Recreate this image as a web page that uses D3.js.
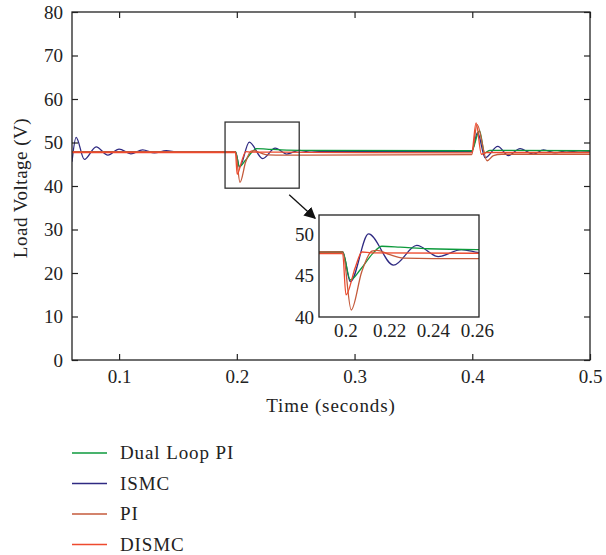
<!DOCTYPE html>
<html>
<head>
<meta charset="utf-8">
<script src="https://cdn.jsdelivr.net/npm/d3@7"></script>
<style>
  body { margin: 0; background: #fff; }
  svg text { font-family: "Liberation Serif", "Times New Roman", serif; fill: #222; }
</style>
</head>
<body>
<div id="chart"></div>
<script>
// series: [time (s), voltage (V)]
var dualLoopPI = [
  [0.06, 47.8], [0.1988, 47.9], [0.2023, 44.5], [0.207, 45.8], [0.2125, 47.7],
  [0.2167, 48.6], [0.225, 48.5], [0.2377, 48.3], [0.26, 48.2], [0.3995, 48.1],
  [0.4061, 52.7], [0.4105, 47.6], [0.415, 48.2], [0.5, 48.1]
];
var ismc = [
  [0.06, 45.6], [0.0635, 51.2], [0.0705, 46.1], [0.0805, 49.0], [0.0905, 47.1],
  [0.1, 48.5], [0.11, 47.4], [0.12, 48.3], [0.13, 47.6], [0.14, 48.1], [0.15, 47.8],
  [0.1988, 47.9], [0.2023, 44.3], [0.2106, 50.1], [0.222, 46.3], [0.2326, 48.7],
  [0.2424, 47.35], [0.253, 48.2], [0.262, 47.8], [0.27, 47.9], [0.3995, 47.9],
  [0.4045, 52.3], [0.4109, 46.5], [0.4217, 49.1], [0.4307, 47.0], [0.4406, 48.6],
  [0.452, 47.3], [0.4605, 48.3], [0.4704, 47.6], [0.48, 48.1], [0.49, 47.8], [0.5, 47.9]
];
var pi = [
  [0.06, 47.9], [0.1988, 47.9], [0.2027, 40.85], [0.2075, 45.5], [0.2121, 48.0],
  [0.2145, 48.1], [0.22, 47.6], [0.2264, 47.15], [0.24, 47.1], [0.26, 47.1],
  [0.3995, 47.2], [0.4041, 54.1], [0.4126, 45.8], [0.418, 47.0], [0.425, 47.3], [0.5, 47.3]
];
var dismc = [
  [0.06, 47.7], [0.1988, 47.7], [0.2003, 42.7], [0.2045, 46.0], [0.2076, 47.9],
  [0.212, 47.8], [0.26, 47.75], [0.3995, 47.6], [0.4032, 54.5], [0.4078, 47.3],
  [0.412, 47.7], [0.5, 47.7]
];

var seriesNames = ["Dual Loop PI", "ISMC", "PI", "DISMC"];
var seriesColors = ["#0d9a3c", "#2f2a82", "#c45a3b", "#ee4a2e"];
var seriesData = [dualLoopPI, ismc, pi, dismc];
var drawOrder = [1, 0, 2, 3];

var yTicks = [0, 10, 20, 30, 40, 50, 60, 70, 80];
var xTicks = [0.1, 0.2, 0.3, 0.4, 0.5];
var insetYTicks = [40, 45, 50];
var insetXTicks = [0.2, 0.22, 0.24, 0.26];

// zoom box in the main plot, arrow ends (data units)
var zoomBox = {t0: 0.19, t1: 0.253, v0: 39.5, v1: 54.7};
var arrowFrom = [0.2445, 38.0], arrowTo = [0.2665, 32.6];

var W = 606, H = 555;
var FONT = '"Liberation Serif", "Times New Roman", serif';
var FS = 19;
var svg = d3.select("#chart").append("svg").attr("width", W).attr("height", H);

var defs = svg.append("defs");
defs.append("marker").attr("id", "arrow")
  .attr("viewBox", "0 0 10 10").attr("refX", 9).attr("refY", 5)
  .attr("markerWidth", 9).attr("markerHeight", 9).attr("orient", "auto")
  .append("path").attr("d", "M0,0 L10,5 L0,10 z").attr("fill", "#111");

// main axes
var x = d3.scaleLinear().domain([0.06, 0.5]).range([72, 590]);
var y = d3.scaleLinear().domain([0, 80]).range([360, 12]);

defs.append("clipPath").attr("id", "clipMain").append("rect")
  .attr("x", 72).attr("y", 12).attr("width", 518).attr("height", 348);

var line = d3.line().curve(d3.curveMonotoneX)
  .x(function(d) { return x(d[0]); }).y(function(d) { return y(d[1]); });

var main = svg.append("g");
var plot = main.append("g").attr("clip-path", "url(#clipMain)");
drawOrder.forEach(function(i) {
  plot.append("path").datum(seriesData[i])
    .attr("d", line).attr("fill", "none")
    .attr("stroke", seriesColors[i]).attr("stroke-width", 1.3);
});

var axisCol = "#222";
var fmt = function(d) { return String(d); };
function ticksAxis(g, axis) {
  g.call(axis);
  g.attr("font-family", FONT).attr("font-size", FS);
  g.select(".domain").remove();
  g.selectAll("line").attr("stroke", axisCol).attr("stroke-width", 1.2);
  g.selectAll("text").attr("fill", "#222");
}
// left / bottom with labels, ticks pointing inward
main.append("g").attr("transform", "translate(72,0)")
  .call(function(g) { ticksAxis(g, d3.axisLeft(y).tickValues(yTicks).tickFormat(fmt).tickSize(-6).tickPadding(9)); });
main.append("g").attr("transform", "translate(0,360)")
  .call(function(g) { ticksAxis(g, d3.axisBottom(x).tickValues(xTicks).tickFormat(fmt).tickSize(-6).tickPadding(10)); });
// mirrored ticks on right / top
main.append("g").attr("transform", "translate(590,0)")
  .call(function(g) { ticksAxis(g, d3.axisRight(y).tickValues(yTicks).tickSize(-6).tickFormat("")); });
main.append("g").attr("transform", "translate(0,12)")
  .call(function(g) { ticksAxis(g, d3.axisTop(x).tickValues(xTicks).tickSize(-6).tickFormat("")); });
main.append("rect").attr("x", 72).attr("y", 12).attr("width", 518).attr("height", 348)
  .attr("fill", "none").attr("stroke", axisCol).attr("stroke-width", 1.3);

main.append("text").attr("x", 331).attr("y", 412).attr("text-anchor", "middle")
  .attr("font-size", FS).attr("letter-spacing", 0.9).text("Time (seconds)");
main.append("text").attr("transform", "translate(27,188) rotate(-90)")
  .attr("text-anchor", "middle").attr("font-size", FS).attr("letter-spacing", 0.5).text("Load Voltage (V)");

// zoom box and arrow
main.append("rect")
  .attr("x", x(zoomBox.t0)).attr("y", y(zoomBox.v1))
  .attr("width", x(zoomBox.t1) - x(zoomBox.t0)).attr("height", y(zoomBox.v0) - y(zoomBox.v1))
  .attr("fill", "none").attr("stroke", "#333").attr("stroke-width", 1.3);
main.append("line")
  .attr("x1", x(arrowFrom[0])).attr("y1", y(arrowFrom[1]))
  .attr("x2", x(arrowTo[0])).attr("y2", y(arrowTo[1]))
  .attr("stroke", "#111").attr("stroke-width", 1.3).attr("marker-end", "url(#arrow)");

// inset
var ix = d3.scaleLinear().domain([0.188, 0.261]).range([319, 479]);
var iy = d3.scaleLinear().domain([40, 52.4]).range([317, 215]);
defs.append("clipPath").attr("id", "clipInset").append("rect")
  .attr("x", 319).attr("y", 215).attr("width", 160).attr("height", 102);

var iline = d3.line().curve(d3.curveMonotoneX)
  .x(function(d) { return ix(d[0]); }).y(function(d) { return iy(d[1]); });

var inset = svg.append("g");
inset.append("rect").attr("x", 319).attr("y", 215).attr("width", 160).attr("height", 102)
  .attr("fill", "#fff");
var iplot = inset.append("g").attr("clip-path", "url(#clipInset)");
drawOrder.forEach(function(i) {
  iplot.append("path").datum(seriesData[i])
    .attr("d", iline).attr("fill", "none")
    .attr("stroke", seriesColors[i]).attr("stroke-width", 1.3);
});
inset.append("g").attr("transform", "translate(319,0)")
  .call(function(g) { ticksAxis(g, d3.axisLeft(iy).tickValues(insetYTicks).tickFormat(fmt).tickSize(0).tickPadding(5)); });
inset.append("g").attr("transform", "translate(0,317)")
  .call(function(g) { ticksAxis(g, d3.axisBottom(ix).tickValues(insetXTicks).tickFormat(fmt).tickSize(0).tickPadding(7)); });
inset.append("rect").attr("x", 319).attr("y", 215).attr("width", 160).attr("height", 102)
  .attr("fill", "none").attr("stroke", axisCol).attr("stroke-width", 1.3);

// legend
var legend = svg.append("g").selectAll("g").data(seriesNames).join("g")
  .attr("transform", function(d, i) { return "translate(72," + (453 + i * 30.5) + ")"; });
legend.append("line").attr("x1", 0).attr("x2", 35).attr("y1", 0).attr("y2", 0)
  .attr("stroke", function(d, i) { return seriesColors[i]; }).attr("stroke-width", 1.5);
legend.append("text").attr("x", 48).attr("y", 6).attr("font-size", FS).attr("letter-spacing", 0.9)
  .text(function(d) { return d; });
</script>
</body>
</html>
